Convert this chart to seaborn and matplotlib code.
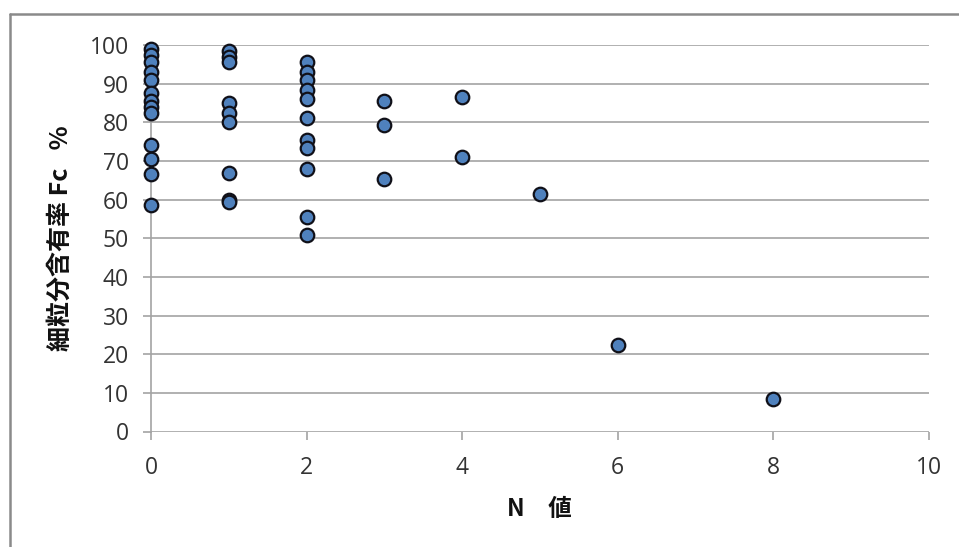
import matplotlib
matplotlib.use("Agg")
import matplotlib.pyplot as plt
from matplotlib.lines import Line2D
import seaborn as sns
import pandas as pd

# N value (SPT blow count) and fines content Fc (%)
n_values = [0] * 13 + [1] * 9 + [2] * 11 + [3] * 3 + [4] * 2 + [5, 6, 8]
fc_values = [
    # N = 0
    99.0, 97.5, 95.5, 93.0, 91.0, 87.5, 85.5, 84.0, 82.5, 74.0, 70.5, 66.5, 58.5,
    # N = 1
    98.5, 97.0, 95.5, 85.0, 82.5, 80.0, 67.0, 60.0, 59.5,
    # N = 2
    95.5, 93.0, 91.0, 88.3, 86.0, 81.0, 75.5, 73.3, 67.8, 55.5, 50.8,
    # N = 3
    85.5, 79.2, 65.3,
    # N = 4
    86.6, 71.0,
    # N = 5, 6, 8
    61.5, 22.3, 8.3,
]

x_ticks = [0, 2, 4, 6, 8, 10]
y_ticks = list(range(0, 101, 10))

df = pd.DataFrame({"N": n_values, "Fc": fc_values})

sns.set_theme(style="white")
plt.rcParams["font.family"] = ["Open Sans", "DejaVu Sans"]

fig = plt.figure(figsize=(9.59, 5.47), dpi=100)
ax = fig.add_axes([151 / 959, 1 - 431.5 / 547, (928.5 - 151) / 959, (431.5 - 45) / 547])

grid_color = "#a3a3a3"
for yv in y_ticks:
    ax.axhline(yv, color=grid_color, lw=1.2, zorder=0)

sns.scatterplot(
    data=df, x="N", y="Fc", ax=ax,
    s=95, color="#4f81bd", edgecolor="#101018", linewidth=1.6,
    zorder=3, clip_on=False,
)

ax.set_xlim(0, 10)
ax.set_ylim(0, 100)
ax.set_xticks(x_ticks)
ax.set_yticks(y_ticks)
ax.set_xticklabels([str(v) for v in x_ticks])
ax.set_yticklabels([str(v) for v in y_ticks])

for side in ["top", "right", "bottom"]:
    ax.spines[side].set_visible(False)
ax.spines["left"].set_color(grid_color)
ax.spines["left"].set_linewidth(1.2)
ax.spines["left"].set_zorder(1)

ax.tick_params(axis="x", direction="out", length=6, width=1.2, color=grid_color,
               pad=12, labelsize=16.5, labelcolor="#333333", bottom=True)
ax.tick_params(axis="y", direction="out", length=6, width=1.2, color=grid_color,
               pad=10, labelsize=16.5, labelcolor="#333333", left=True)

cjk = ["Noto Sans CJK JP", "DejaVu Sans"]
ax.set_xlabel("N\u3000値", fontsize=17, fontweight="bold",
              family=cjk, labelpad=12, color="#111111")
ax.set_ylabel("細粒分含有率 Fc\u2002 %", fontsize=18, fontweight="bold",
              family=cjk, labelpad=12, color="#111111")

# outer chart frame (top and left edges)
fig.add_artist(Line2D([10 / 959, 1.0], [1 - 14 / 547, 1 - 14 / 547],
                      transform=fig.transFigure, color="#8a8a8a", lw=1.8))
fig.add_artist(Line2D([10 / 959, 10 / 959], [0.0, 1 - 14 / 547],
                      transform=fig.transFigure, color="#8a8a8a", lw=1.8))

fig.savefig("out.png", dpi=100, facecolor="white")
